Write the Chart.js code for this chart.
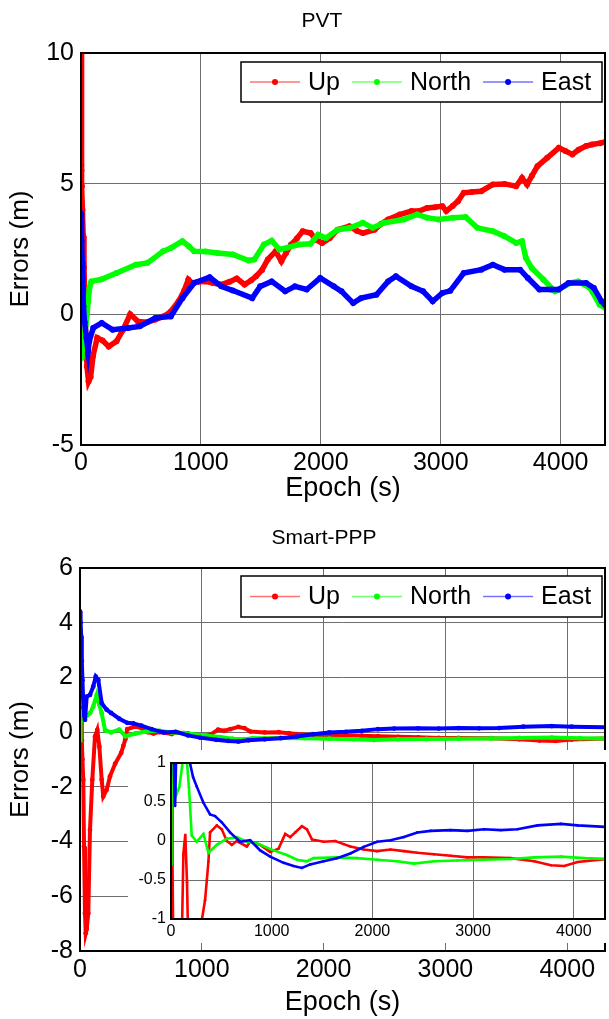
<!DOCTYPE html>
<html>
<head>
<meta charset="utf-8">
<script src="https://cdn.jsdelivr.net/npm/chart.js@4.4.1/dist/chart.umd.min.js"></script>
<style>
  html, body { margin: 0; padding: 0; background: #fff; }
  #wrap { position: relative; width: 609px; height: 1019px; overflow: hidden; }
  #wrap canvas { position: absolute; }
</style>
</head>
<body>
<div id="wrap">
  <canvas id="pvtChart" width="609" height="505" style="left:0;top:0"></canvas>
  <canvas id="pppChart" width="609" height="509" style="left:0;top:510px"></canvas>
  <canvas id="insetChart" width="481" height="193" style="left:128px;top:750px;background:#fff"></canvas>
</div>
<script>
/* ---- データ (epoch [s] / error [m]) ---- */
const seriesNames = ['Up', 'North', 'East'];
const seriesColors = ['#ff0000', '#00ff00', '#0000ff'];

const epochTicks = [0, 1000, 2000, 3000, 4000];
const pvtYTicks = [-5, 0, 5, 10];
const pppYTicks = [-8, -6, -4, -2, 0, 2, 4, 6];
const insetYTicks = [-1, -0.5, 0, 0.5, 1];

/* PVT */
const pvtUpT = [0, 2, 4, 8, 12, 18, 25, 32, 40, 50, 63,
  80, 100, 135, 180, 231, 296, 350, 410, 474, 550,
  620, 700, 749, 814, 860, 895, 927, 980, 1040, 1100,
  1170, 1240, 1299, 1364, 1420, 1461, 1510, 1558, 1623, 1671,
  1710, 1752, 1800, 1849, 1914, 1960, 2011, 2075, 2140, 2238,
  2300, 2351, 2448, 2500, 2561, 2658, 2756, 2820, 2885, 2950,
  3014, 3046, 3100, 3144, 3192, 3260, 3338, 3435, 3532, 3629,
  3678, 3720, 3760, 3807, 3888, 3985, 4040, 4098, 4150, 4212,
  4262, 4330, 4390];
const pvtUpV = [12, 5.7, 5.5, 4.9, 4.0, 3.0, 1.8, 0.5, -0.9, -2.0, -2.57,
  -2.4, -1.6, -0.9, -1.0, -1.23, -1.03, -0.6, 0.0, -0.27, -0.3,
  -0.2, -0.05, 0.11, 0.5, 0.9, 1.33, 1.2, 1.25, 1.26, 1.2,
  1.14, 1.25, 1.37, 1.14, 1.3, 1.46, 1.7, 2.1, 2.41, 2.03,
  2.35, 2.67, 2.9, 3.18, 3.11, 2.85, 2.73, 2.92, 3.24, 3.37,
  3.2, 3.11, 3.24, 3.45, 3.63, 3.82, 3.95, 3.95, 4.07, 4.1,
  4.14, 3.95, 4.15, 4.33, 4.65, 4.68, 4.71, 4.97, 4.99, 4.9,
  5.22, 4.97, 5.3, 5.67, 5.99, 6.37, 6.25, 6.12, 6.3, 6.44,
  6.5, 6.55, 6.63];

const pvtNorthT = [0, 6, 12, 25, 40, 50, 60, 70, 86, 166,
  296, 458, 555, 684, 749, 846, 900, 943, 1040, 1137,
  1267, 1396, 1446, 1525, 1590, 1655, 1720, 1817, 1914, 1978,
  2043, 2140, 2238, 2351, 2432, 2529, 2691, 2804, 2885, 2982,
  3100, 3208, 3305, 3435, 3532, 3629, 3678, 3710, 3759, 3856,
  3953, 4082, 4147, 4244, 4325, 4390];
const pvtNorthV = [-0.7, -1.67, -1.3, -0.9, -0.4, 0.0, 0.5, 1.0, 1.26, 1.33,
  1.58, 1.9, 1.97, 2.41, 2.54, 2.8, 2.6, 2.41, 2.4, 2.35,
  2.29, 2.06, 2.1, 2.67, 2.82, 2.48, 2.55, 2.67, 2.7, 3.05,
  2.92, 3.24, 3.3, 3.5, 3.31, 3.5, 3.63, 3.82, 3.7, 3.63,
  3.7, 3.72, 3.31, 3.18, 2.99, 2.73, 2.8, 2.16, 1.77, 1.33,
  0.88, 1.2, 1.26, 1.01, 0.37, 0.18];

const pvtEastT = [0, 5, 10, 15, 20, 30, 45, 59, 69, 102,
  173, 264, 393, 490, 620, 749, 846, 943, 1073, 1170,
  1267, 1428, 1494, 1590, 1703, 1784, 1882, 1995, 2108, 2173,
  2270, 2335, 2464, 2561, 2626, 2756, 2853, 2933, 3014, 3079,
  3192, 3338, 3435, 3532, 3662, 3727, 3823, 3920, 3985, 4066,
  4212, 4277, 4341, 4390];
const pvtEastV = [3.88, 2.8, 2.0, 1.0, 0.3, -0.3, -0.9, -1.42, -1.03, -0.52,
  -0.33, -0.59, -0.52, -0.46, -0.14, -0.08, 0.62, 1.2, 1.42, 1.07,
  0.91, 0.62, 1.07, 1.26, 0.88, 1.07, 0.95, 1.39, 1.07, 0.88,
  0.43, 0.62, 0.75, 1.26, 1.46, 1.07, 0.88, 0.5, 0.82, 0.9,
  1.58, 1.71, 1.9, 1.71, 1.71, 1.39, 0.95, 0.95, 0.95, 1.2,
  1.2, 1.01, 0.5, 0.24];

/* Smart-PPP */
const pppUpT = [0, 5, 10, 15, 20, 27, 33, 41, 47, 55,
  68, 82, 101, 123, 142, 159, 178, 191, 219, 246,
  289, 338, 356, 372, 388, 455, 504, 554, 604, 653,
  753, 786, 886, 985, 1068, 1134, 1184, 1234, 1300, 1350,
  1400, 1516, 1632, 1715, 1781, 1914, 2047, 2180, 2313, 2446,
  2612, 2776, 2945, 3108, 3374, 3607, 3773, 3906, 4037, 4330];
const pppUpV = [3.1, 2.0, 0.8, -0.3, -1.0, -1.74, -4.18, -6.62, -7.35, -7.2,
  -6.62, -3.57, -1.74, -0.16, 0.08, -0.53, -1.74, -2.35, -2.11, -1.62,
  -1.15, -0.76, -0.5, -0.26, 0.11, 0.2, 0.15, 0.0, -0.05, 0.0,
  -0.07, -0.01, -0.05, -0.14, -0.1, 0.09, 0.05, 0.11, 0.19, 0.15,
  0.02, -0.01, 0.0, -0.04, -0.07, -0.11, -0.13, -0.11, -0.13, -0.15,
  -0.17, -0.19, -0.21, -0.21, -0.22, -0.26, -0.31, -0.32, -0.27, -0.23];

const pppNorthT = [0, 5, 10, 14, 22, 30, 41, 55, 82,
  109, 137, 159, 178, 206, 255, 322, 372, 455, 554,
  653, 753, 852, 1018, 1151, 1251, 1350, 1416, 1648, 1847,
  2047, 2247, 2413, 2612, 2844, 3108, 3374, 3607, 3873, 4105,
  4330];
const pppNorthV = [-0.3, 0.4, 1.0, 1.3, 1.1, 0.9, 0.7, 0.6, 0.69,
  0.94, 1.36, 1.0, 0.69, 0.07, -0.01, 0.09, -0.15, -0.05, 0.03,
  0.05, -0.01, -0.03, -0.12, -0.18, -0.24, -0.26, -0.22, -0.21, -0.22,
  -0.24, -0.26, -0.29, -0.26, -0.25, -0.24, -0.23, -0.21, -0.2, -0.22,
  -0.23];

const pppEastT = [0, 5, 10, 15, 20, 25, 30, 35, 41, 55,
  82, 109, 129, 150, 178, 219, 255, 322, 388, 438,
  504, 587, 686, 786, 886, 985, 1118, 1217, 1300, 1383,
  1516, 1648, 1781, 1914, 2047, 2180, 2313, 2446, 2579, 2776,
  2945, 3108, 3275, 3440, 3640, 3873, 4037, 4330];
const pppEastV = [4.41, 4.0, 3.5, 2.6, 1.9, 1.3, 0.9, 0.6, 0.45, 1.3,
  1.36, 1.67, 2.03, 1.91, 1.06, 0.82, 0.70, 0.49, 0.34, 0.32,
  0.24, 0.11, -0.01, 0.01, -0.12, -0.2, -0.28, -0.32, -0.345, -0.30,
  -0.26, -0.22, -0.16, -0.075, -0.01, 0.01, 0.05, 0.11, 0.13, 0.14,
  0.13, 0.15, 0.14, 0.15, 0.20, 0.22, 0.20, 0.18];

/* ---- 共通スタイル ---- */
const FONT = "'Liberation Sans', Arial, Helvetica, sans-serif";
const GRID = '#6e6e6e';

const toXY = (t, v) => t.map((x, i) => ({ x: x, y: v[i] }));

function makeSets(ts, vs, lw, pr) {
  return ts.map((t, i) => ({
    label: seriesNames[i],
    data: toXY(t, vs[i]),
    borderColor: seriesColors[i],
    backgroundColor: seriesColors[i],
    borderWidth: lw,
    pointRadius: pr,
    pointBorderWidth: 0,
    pointHoverRadius: 0,
    tension: 0,
    clip: 0,
    order: 2 - i   // East を一番上に
  }));
}

/* 枠線 (MATLAB の box on) */
const frame = {
  id: 'frame',
  afterDraw(chart) {
    const a = chart.chartArea, ctx = chart.ctx;
    ctx.save();
    ctx.strokeStyle = '#000';
    ctx.lineWidth = 2;
    ctx.strokeRect(a.left, a.top, a.right - a.left, a.bottom - a.top);
    ctx.restore();
  }
};

/* 枠付きの凡例 (グラフ内・右上) */
const boxLegend = {
  id: 'boxLegend',
  afterDraw(chart, args, o) {
    if (!o.show) return;
    const a = chart.chartArea, ctx = chart.ctx;
    const left = a.right - o.right - o.width, top = a.top + o.top;
    const cy = top + o.height / 2;
    ctx.save();
    ctx.fillStyle = '#fff';
    ctx.fillRect(left, top, o.width, o.height);
    ctx.strokeStyle = '#000';
    ctx.lineWidth = 1.5;
    ctx.strokeRect(left, top, o.width, o.height);
    ctx.font = o.size + 'px ' + FONT;
    ctx.textBaseline = 'middle';
    let x = left + 9;
    chart.data.datasets.forEach(ds => {
      ctx.globalAlpha = 0.55;
      ctx.strokeStyle = ds.borderColor;
      ctx.lineWidth = 1.6;
      ctx.beginPath();
      ctx.moveTo(x, cy);
      ctx.lineTo(x + 50, cy);
      ctx.stroke();
      ctx.globalAlpha = 1;
      ctx.fillStyle = ds.borderColor;
      ctx.beginPath();
      ctx.arc(x + 25, cy, 3, 0, Math.PI * 2);
      ctx.fill();
      ctx.fillStyle = '#000';
      ctx.fillText(ds.label, x + 58, cy + 1);
      x += 58 + ctx.measureText(ds.label).width + 12;
    });
    ctx.restore();
  }
};

/* 軸の上のタイトル */
const axesTitle = {
  id: 'axesTitle',
  afterDraw(chart, args, o) {
    if (!o.text) return;
    const ctx = chart.ctx;
    ctx.save();
    ctx.font = o.size + 'px ' + FONT;
    ctx.fillStyle = '#000';
    ctx.textAlign = 'center';
    ctx.textBaseline = 'middle';
    ctx.fillText(o.text, o.x, o.y);
    ctx.restore();
  }
};

function xAxis(max, height, tickSize, tickPad, title) {
  return {
    type: 'linear', min: 0, max: max,
    afterBuildTicks: s => { s.ticks = epochTicks.map(v => ({ value: v })); },
    afterFit: s => { s.height = height; },
    grid: { color: GRID, lineWidth: 1, drawTicks: false },
    border: { display: false },
    ticks: { padding: tickPad, color: '#000', maxRotation: 0, autoSkip: false,
      font: { family: FONT, size: tickSize, lineHeight: 1 }, callback: v => String(v) },
    title: { display: !!title, text: title, color: '#000',
      font: { family: FONT, size: 27 }, padding: { top: 0, bottom: 0 } }
  };
}

function yAxis(min, max, ticks, width, tickSize, tickPad, title) {
  return {
    type: 'linear', min: min, max: max,
    afterBuildTicks: s => { s.ticks = ticks.map(v => ({ value: v })); },
    afterFit: s => { s.width = width; },
    grid: { color: GRID, lineWidth: 1, drawTicks: false },
    border: { display: false },
    ticks: { padding: tickPad, color: '#000', autoSkip: false,
      font: { family: FONT, size: tickSize, lineHeight: 1 }, callback: v => String(v) },
    title: { display: !!title, text: title, color: '#000',
      font: { family: FONT, size: 26 }, padding: { top: 5, bottom: 0 } }
  };
}

function baseOptions(pad, scales, legendOpt, titleOpt) {
  return {
    responsive: false,
    animation: false,
    events: [],
    layout: { padding: pad },
    scales: scales,
    plugins: {
      legend: { display: false },
      tooltip: { enabled: false },
      boxLegend: legendOpt,
      axesTitle: titleOpt
    }
  };
}

/* PVT */
new Chart(document.getElementById('pvtChart'), {
  type: 'line',
  data: { datasets: makeSets([pvtUpT, pvtNorthT, pvtEastT], [pvtUpV, pvtNorthV, pvtEastV], 5.5, 3) },
  options: baseOptions({ top: 53, right: 4, left: 0, bottom: 0 },
    { x: xAxis(4370, 60, 25, 6, 'Epoch (s)'), y: yAxis(-5, 10, pvtYTicks, 81, 25, 7, 'Errors (m)') },
    { show: true, width: 361, height: 40, top: 9, right: 3, size: 25 },
    { text: 'PVT', x: 322, y: 21, size: 21 }),
  plugins: [boxLegend, frame, axesTitle]
});

/* Smart-PPP */
new Chart(document.getElementById('pppChart'), {
  type: 'line',
  data: { datasets: makeSets([pppUpT, pppNorthT, pppEastT], [pppUpV, pppNorthV, pppEastV], 4, 2.4) },
  options: baseOptions({ top: 58, right: 4, left: 0, bottom: 0 },
    { x: xAxis(4310, 68, 25, 7, 'Epoch (s)'), y: yAxis(-8, 6, pppYTicks, 80, 25, 7, 'Errors (m)') },
    { show: true, width: 361, height: 41, top: 8, right: 3, size: 25 },
    { text: 'Smart-PPP', x: 324, y: 28, size: 21 }),
  plugins: [boxLegend, frame, axesTitle]
});

/* 拡大図 (inset) */
new Chart(document.getElementById('insetChart'), {
  type: 'line',
  data: { datasets: makeSets([pppUpT, pppNorthT, pppEastT], [pppUpV, pppNorthV, pppEastV], 2.6, 1.3) },
  options: baseOptions({ top: 9, right: 4, left: 0, bottom: 0 },
    { x: xAxis(4310, 24, 16, 5, ''), y: yAxis(-1, 1, insetYTicks, 43, 16, 5, '') },
    { show: false },
    {}),
  plugins: [boxLegend, frame, axesTitle]
});
</script>
</body>
</html>
